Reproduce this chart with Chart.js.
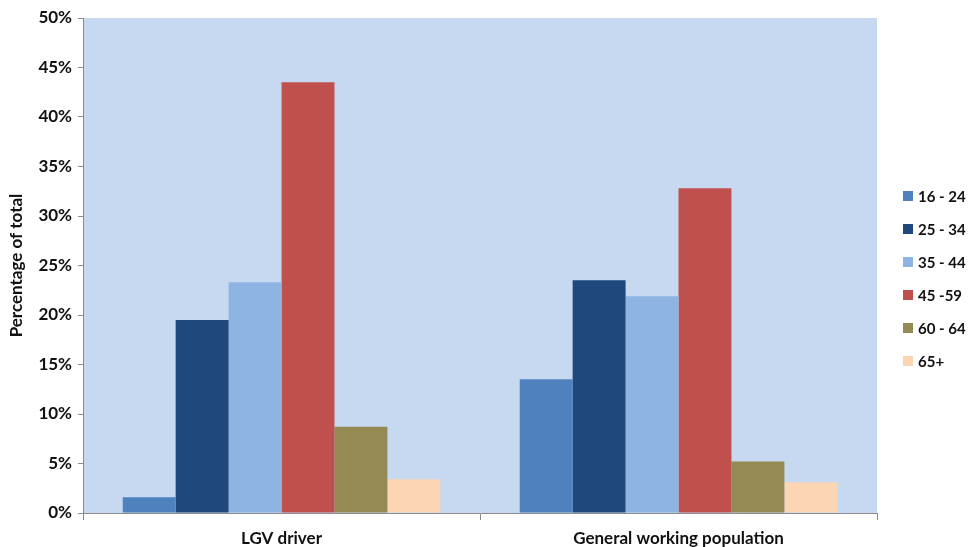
<!DOCTYPE html>
<html>
<head>
<meta charset="utf-8">
<script src="https://cdn.jsdelivr.net/npm/chart.js@4.4.1/dist/chart.umd.min.js"></script>
<style>
  html, body { margin: 0; padding: 0; background: #ffffff; }
  #wrap { width: 970px; height: 547px; position: relative; }
</style>
</head>
<body>
<div id="wrap"><canvas id="chart"></canvas></div>
<script>
// Age-group shares (% of total) for LGV drivers vs the general working population
const categories = ['LGV driver', 'General working population'];
const ageGroups = ['16 - 24', '25 - 34', '35 - 44', '45 -59', '60 - 64', '65+'];
const age16to24 = [1.6, 13.5];
const age25to34 = [19.5, 23.5];
const age35to44 = [23.3, 21.9];
const age45to59 = [43.5, 32.8];
const age60to64 = [8.7, 5.2];
const age65plus = [3.4, 3.1];
const yTicks = [0, 5, 10, 15, 20, 25, 30, 35, 40, 45, 50];

const seriesValues = [age16to24, age25to34, age35to44, age45to59, age60to64, age65plus];
const seriesColors = ['#4F81BD', '#1F497D', '#8EB4E3', '#C0504D', '#948A54', '#FCD5B5'];

const FONT = 'Lato, "Open Sans", sans-serif';
const FONT_SIZE = 17;
const LEGEND_SIZE = 15;
const TEXT = '#111111';
const AXIS = '#8c8c8c';

// Light blue fill behind the plotting area
const plotBackground = {
  id: 'plotBackground',
  beforeDraw(chart) {
    const { ctx, chartArea: a } = chart;
    ctx.save();
    ctx.fillStyle = '#C6D9F1';
    ctx.fillRect(a.left, a.top, a.right - a.left, a.bottom - a.top);
    ctx.restore();
  }
};

// Vertical legend to the right of the plot
const sideLegend = {
  id: 'sideLegend',
  afterDraw(chart) {
    const { ctx, chartArea: a } = chart;
    const x = a.right + 26;
    const y0 = 196;
    const step = 33;
    ctx.save();
    ctx.font = 'bold ' + LEGEND_SIZE + 'px ' + FONT;
    ctx.textBaseline = 'middle';
    ctx.textAlign = 'left';
    chart.data.datasets.forEach((ds, i) => {
      const y = y0 + i * step;
      ctx.fillStyle = ds.backgroundColor;
      ctx.fillRect(x, y - 5, 10, 10);
      ctx.fillStyle = TEXT;
      ctx.fillText(ds.label, x + 15, y + 1);
    });
    ctx.restore();
  }
};

new Chart(document.getElementById('chart'), {
  type: 'bar',
  data: {
    labels: categories,
    datasets: ageGroups.map((g, i) => ({
      label: g,
      data: seriesValues[i],
      backgroundColor: seriesColors[i],
      borderWidth: 0,
      categoryPercentage: 0.8,
      barPercentage: 1.0
    }))
  },
  options: {
    responsive: true,
    maintainAspectRatio: false,
    animation: false,
    layout: { padding: { top: 18, right: 93, bottom: 0, left: 6 } },
    plugins: {
      legend: { display: false },
      tooltip: { enabled: false }
    },
    scales: {
      x: {
        afterFit(scale) { scale.height = 34; },
        grid: { display: true, drawOnChartArea: false, offset: true, tickLength: 7, color: AXIS },
        border: { color: AXIS, width: 1 },
        ticks: { color: TEXT, font: { family: FONT, size: FONT_SIZE, weight: 'bold' }, padding: 8 }
      },
      y: {
        min: 0,
        max: 50,
        afterBuildTicks(scale) { scale.ticks = yTicks.map(v => ({ value: v })); },
        grid: { display: true, drawOnChartArea: false, tickLength: 5, color: AXIS },
        border: { color: AXIS, width: 1 },
        ticks: {
          color: TEXT,
          font: { family: FONT, size: FONT_SIZE, weight: 'bold' },
          padding: 6,
          callback: v => v + '%'
        },
        title: {
          display: true,
          text: 'Percentage of total',
          color: TEXT,
          font: { family: FONT, size: FONT_SIZE, weight: 'bold' },
          padding: { top: 0, bottom: 6 }
        }
      }
    }
  },
  plugins: [plotBackground, sideLegend]
});
</script>
</body>
</html>
